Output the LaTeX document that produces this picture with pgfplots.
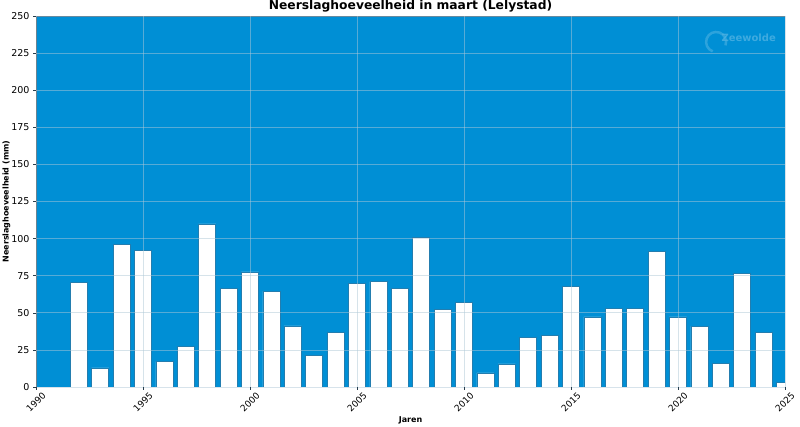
\documentclass[border=0pt]{standalone}
\usepackage{fontspec}
\setmainfont{DejaVu Sans}
\usepackage{pgfplots}
\pgfplotsset{compat=1.18}
\definecolor{bgblue}{RGB}{0,143,213}
\definecolor{gridc}{RGB}{175,200,215}
\definecolor{edgeblue}{RGB}{35,125,175}
\definecolor{spine}{RGB}{40,60,75}
\begin{document}
\begin{tikzpicture}
\begin{axis}[
    name=ax, at={(0,0)}, anchor=south west,
    scale only axis, width=749pt, height=371pt,
    xmin=1990, xmax=2025, ymin=0, ymax=250,
    xtick={1990,1995,...,2025}, ytick={0,25,...,250},
    /pgf/number format/assume math mode=true,
    xticklabel style={/pgf/number format/1000 sep={}, yshift=-12pt, rotate=45, anchor=center, font=\fontsize{9}{10}\selectfont},
    yticklabel style={font=\fontsize{9.5}{10}\selectfont},
    axis background/.style={fill=bgblue},
    axis line style={draw=none},
    tick align=outside, major tick length=3pt,
    tick style={color=spine, line width=0.5pt},
    xtick pos=bottom, ytick pos=left,
    grid=major, grid style={color=gridc, opacity=0.5, line width=0.7pt},
    axis on top,
    ybar, bar width=0.8,
    title={\bfseries Neerslaghoeveelheid in maart (Lelystad)},
    title style={font=\fontsize{12.3}{14}\selectfont, yshift=-6pt},
    xlabel={\bfseries Jaren},
    xlabel style={font=\fontsize{8}{9}\selectfont, at={(axis description cs:0.5,0)}, anchor=north, yshift=-26pt},
    ylabel={\bfseries Neerslaghoeveelheid (mm)},
    ylabel style={font=\fontsize{8}{9}\selectfont, at={(axis description cs:0,0.5)}, anchor=south, yshift=22pt},
]
\addplot[fill=white, draw=edgeblue, line width=0.6pt] coordinates {
    (1992,70.5) (1993,12.8) (1994,95.9) (1995,92.3) (1996,17.1) (1997,27.5)
    (1998,109.9) (1999,66.4) (2000,77.5) (2001,64.4) (2002,41.2) (2003,21.4)
    (2004,36.9) (2005,70.0) (2006,71.0) (2007,66.2) (2008,100.7) (2009,52.5)
    (2010,57.2) (2011,9.5) (2012,15.5) (2013,33.6) (2014,34.5) (2015,67.8)
    (2016,47.3) (2017,53.2) (2018,52.9) (2019,91.4) (2020,47.3) (2021,40.8)
    (2022,16.0) (2023,76.4) (2024,36.7) (2025,3.2)
};
\draw[spine, line width=0.7pt] (rel axis cs:0,1) -- (rel axis cs:0,0) -- (rel axis cs:1,0);
\draw[spine!80!bgblue, line width=0.6pt] (rel axis cs:0,1) -- (rel axis cs:1,1);
\node[anchor=south east, font=\fontsize{6.5}{7}\selectfont, inner sep=1.5pt] at (rel axis cs:1,1) {Data: KNMI};
\node[anchor=west, font=\fontsize{10}{12}\selectfont\bfseries, text=bgblue!65!white, opacity=0.7, inner sep=0pt] at (rel axis cs:0.915,0.94) {Zeewolde};
\draw[bgblue!70!white, opacity=0.6, line width=2.5pt] (rel axis cs:0.908,0.93) ++(-20:10pt) arc (-20:250:10pt);
\end{axis}
\pgfresetboundingbox
\path (-36pt,-40pt) rectangle (764pt,387pt);
\end{tikzpicture}
\end{document}
